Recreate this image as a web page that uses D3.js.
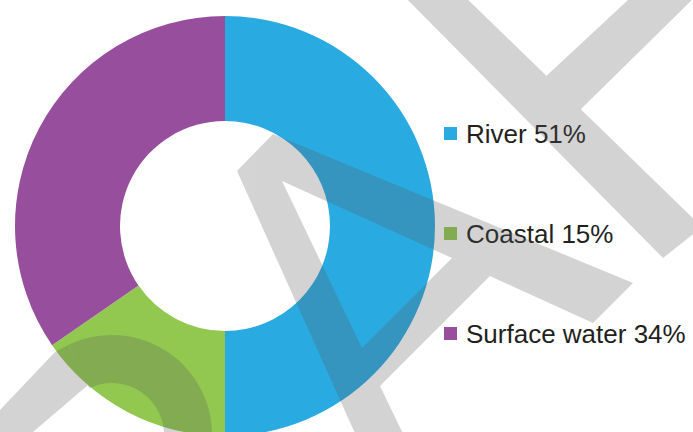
<!DOCTYPE html>
<html>
<head>
<meta charset="utf-8">
<script src="https://cdn.jsdelivr.net/npm/d3@7"></script>
<style>
    html, body { margin: 0; padding: 0; background: #fff; }
    svg { display: block; }
    .legend-label {
        font-family: "Liberation Sans", Arial, sans-serif;
        font-size: 26px;
        fill: #231f20;
    }
</style>
</head>
<body>
<svg id="chart" width="693" height="432"></svg>
<script>
// Donnees.
const categories = ["River", "Coastal", "Surface water"];
const shares = [50, 15.4, 34.6];        // parts des secteurs telles que dessinees
const labelPercents = [51, 15, 34];     // pourcentages affiches dans la legende
const colors = ["#29abe2", "#92c850", "#974f9d"];

const width = 693, height = 432;
const center = { x: 225, y: 226 };
const outerRadius = 210, innerRadius = 105;

const svg = d3.select("#chart");
svg.append("rect").attr("width", width).attr("height", height).attr("fill", "#fff");

// Anneau principal.
const pie = d3.pie().sort(null).value(function(d) { return d.value; });
const arc = d3.arc().innerRadius(innerRadius).outerRadius(outerRadius);

const slices = pie(categories.map(function(c, i) {
    return { name: c, value: shares[i], color: colors[i] };
}));

svg.append("g")
    .attr("transform", "translate(" + center.x + "," + center.y + ")")
    .selectAll("path")
    .data(slices)
    .enter()
    .append("path")
    .attr("d", arc)
    .attr("fill", function(d) { return d.data.color; });

// Legende : carres puis textes.
const legendY = d3.scalePoint().domain(categories).range([142.5, 342.5]);
const legendX = 444, swatch = 13;

const legend = svg.append("g").attr("class", "legend");
legend.selectAll("rect")
    .data(categories)
    .enter()
    .append("rect")
    .attr("x", legendX)
    .attr("y", function(d) { return legendY(d) - 15.5; })
    .attr("width", swatch)
    .attr("height", swatch)
    .attr("fill", function(d, i) { return colors[i]; });

// Filigrane gris semi-transparent par-dessus le graphique.
const mark = svg.append("g").attr("opacity", 0.26).attr("fill", "rgb(90,90,90)");

function poly(points) {
    return "M" + points.map(function(p) { return p.join(","); }).join("L") + "Z";
}

// Le grand X en haut a droite.
mark.append("path").attr("d", poly([[400, -8], [460, -8], [702, 227], [663, 258]]));
mark.append("path").attr("d", poly([[628, 0], [700, -8], [578, 112], [542, 80]]));

// La forme en fleche / V au centre, avec son trou triangulaire.
mark.append("path")
    .attr("fill-rule", "evenodd")
    .attr("d",
        poly([[237, 171], [273, 134], [633, 283], [593, 323], [490, 276],
              [380, 386], [406, 440], [358, 440]]) +
        poly([[282, 181], [452, 258], [362, 348]]));

// Bande et demi-anneau en bas a gauche.
mark.append("path").attr("d", poly([[-10, 420.5], [55, 352], [68, 345], [88, 385], [33, 432], [-10, 469]]));
mark.append("path")
    .attr("transform", "translate(112,435)")
    .attr("d", d3.arc()
        .innerRadius(52)
        .outerRadius(100)
        .startAngle(-26 * Math.PI / 180)
        .endAngle(95 * Math.PI / 180)());

legend.selectAll("text")
    .data(categories)
    .enter()
    .append("text")
    .attr("class", "legend-label")
    .attr("x", 466)
    .attr("y", function(d) { return legendY(d); })
    .text(function(d, i) { return d + " " + labelPercents[i] + "%"; });
</script>
</body>
</html>
